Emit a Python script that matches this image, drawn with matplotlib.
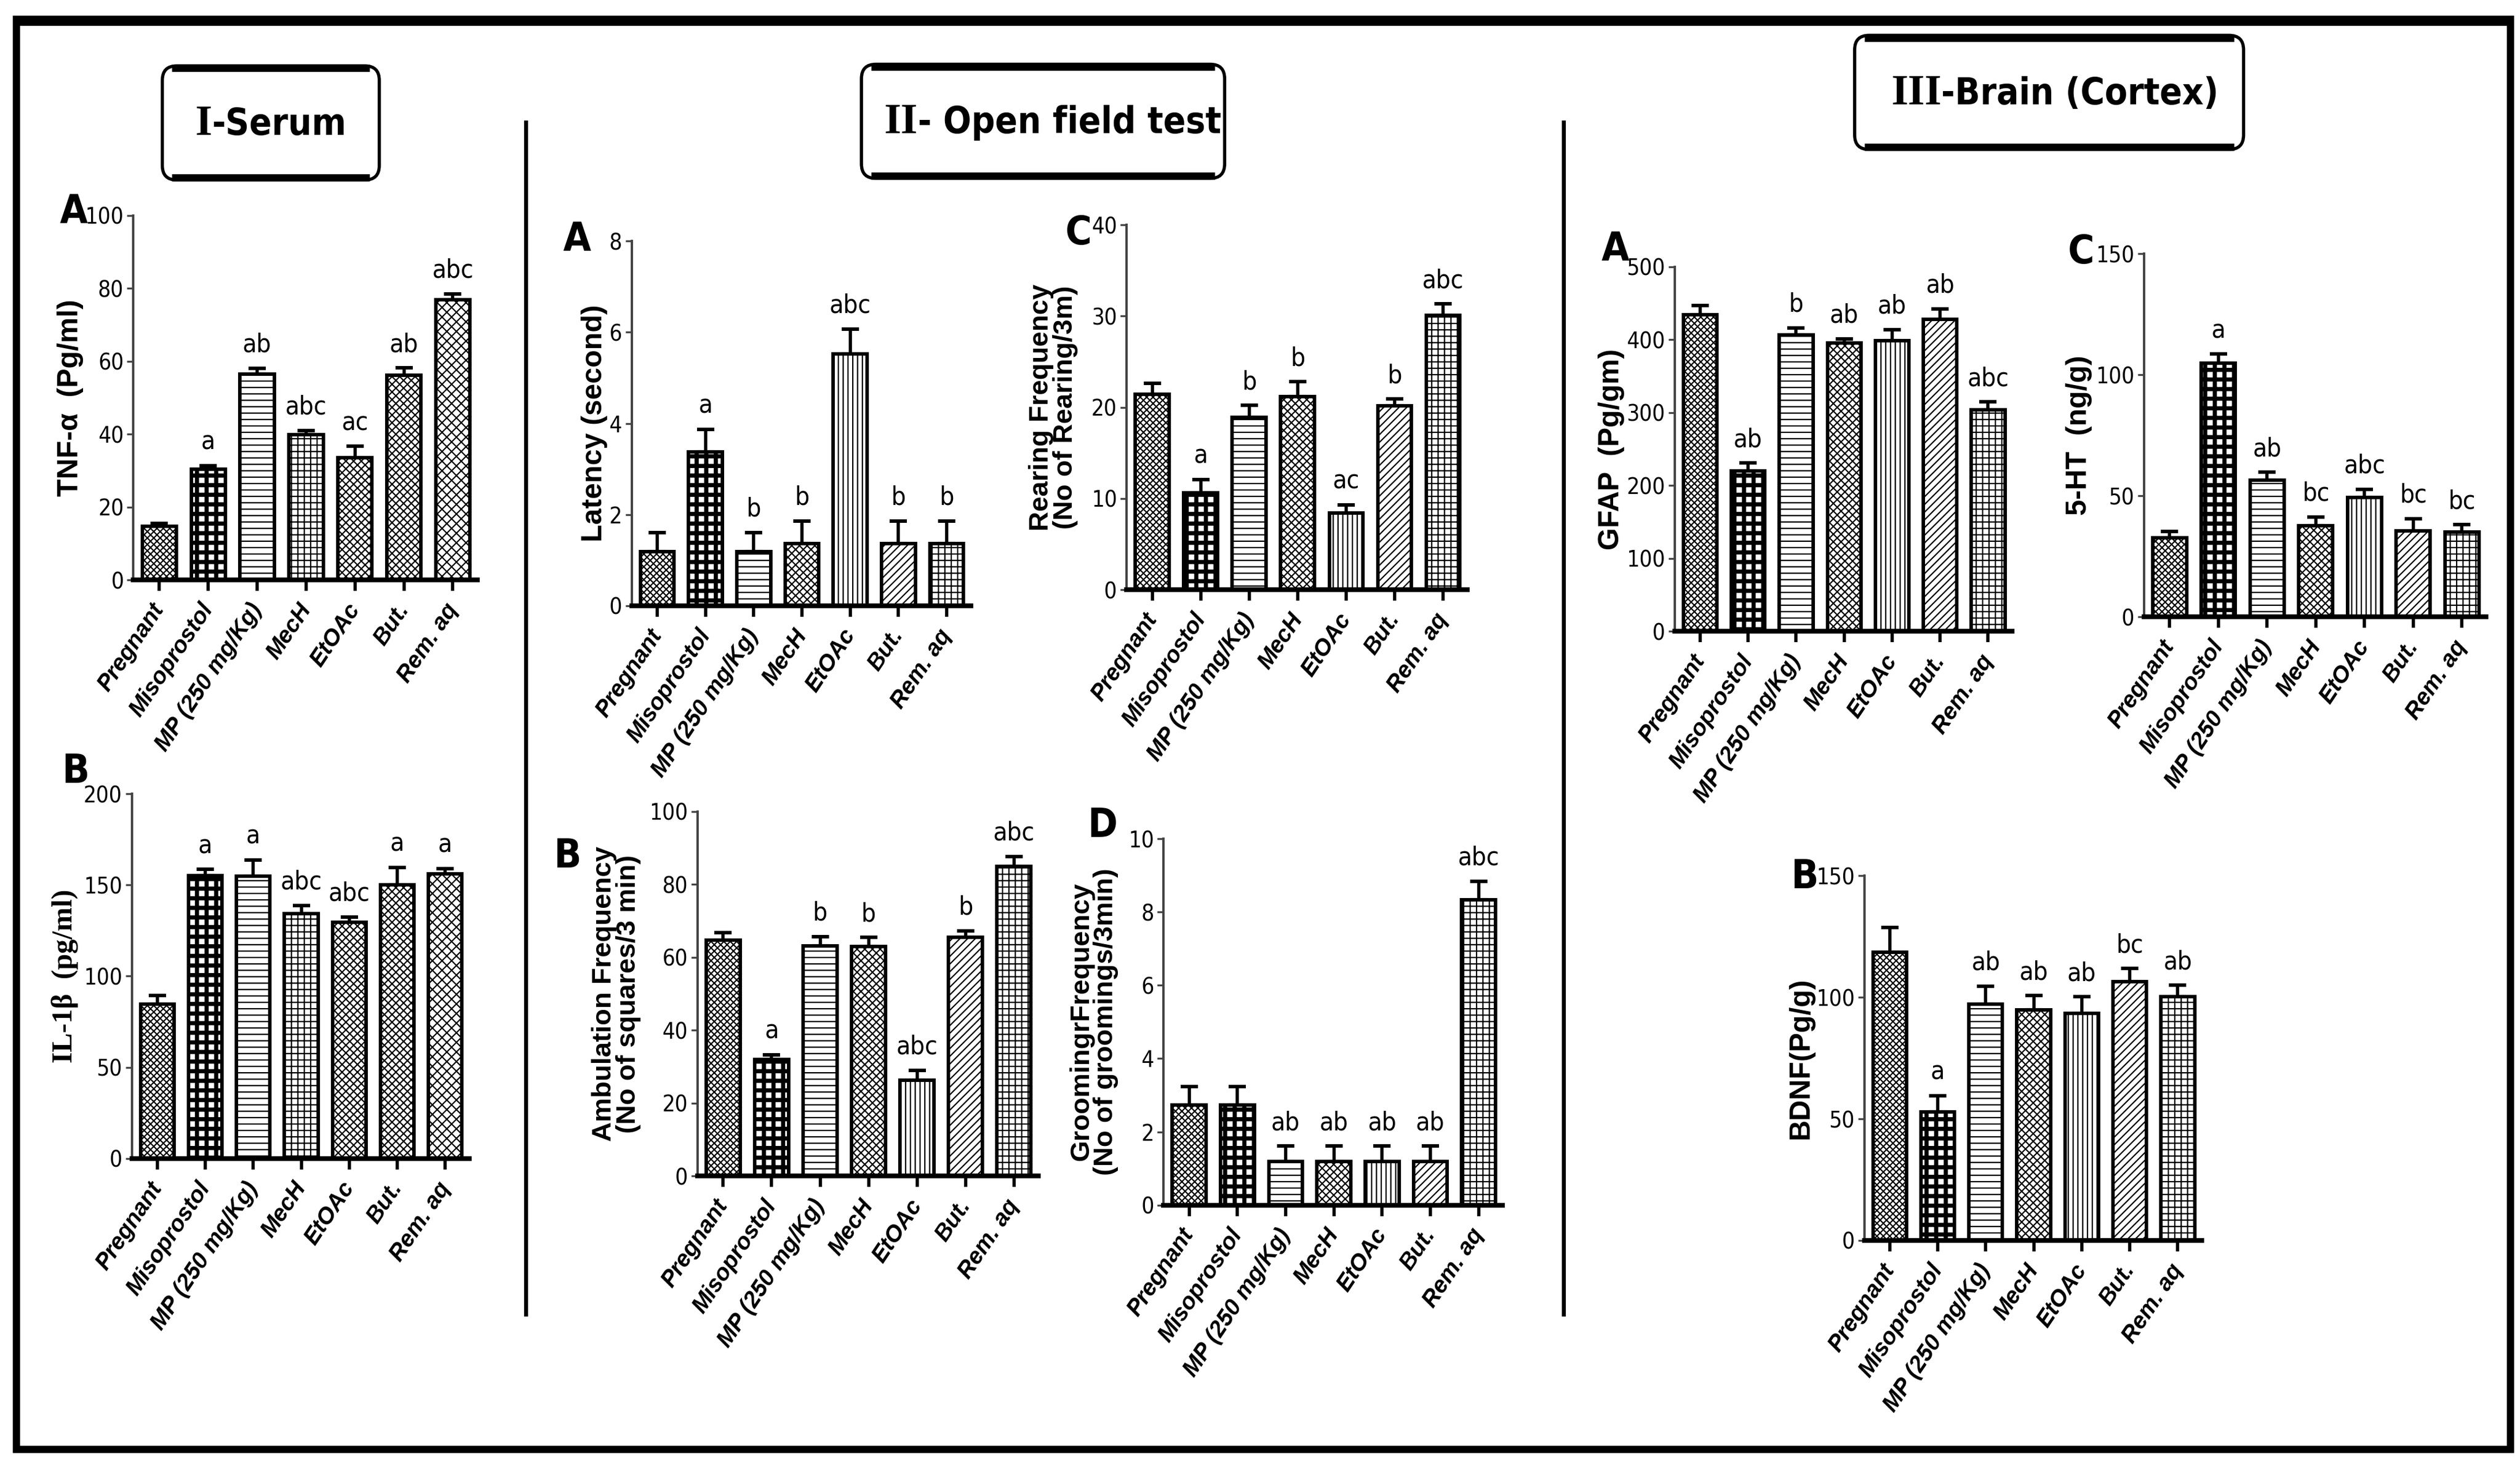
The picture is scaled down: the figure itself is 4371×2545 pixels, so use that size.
import numpy as np
import matplotlib
matplotlib.use("Agg")
import matplotlib.pyplot as plt
from matplotlib import font_manager
from matplotlib.patches import FancyBboxPatch, Rectangle

# fonts: narrow face for numbers/letters like the GraphPad export
names = {f.name for f in font_manager.fontManager.ttflist}
NARROW = "Liberation Sans Narrow" if "Liberation Sans Narrow" in names else "DejaVu Sans"
STRETCH = "normal" if NARROW != "DejaVu Sans" else "condensed"
SANS = "Liberation Sans" if "Liberation Sans" in names else "DejaVu Sans"
SERIF = "Liberation Serif" if "Liberation Serif" in names else "DejaVu Serif"

# ---- data ----
groups = ["Pregnant", "Misoprostol", "MP (250 mg/Kg)", "MecH", "EtOAc", "But.", "Rem. aq"]

tnf = [14.8, 30.4, 56.4, 39.8, 33.5, 56.2, 76.8]
tnf_err = [0.8, 1.0, 1.7, 1.2, 3.2, 2.0, 1.7]
tnf_sig = ["", "a", "ab", "abc", "ac", "ab", "abc"]

il1b = [84.5, 155, 154.8, 134.3, 129.4, 150.2, 156]
il1b_err = [5, 3.5, 9, 4.4, 3, 9.5, 3]
il1b_sig = ["", "a", "a", "abc", "abc", "a", "a"]

latency = [1.19, 3.37, 1.19, 1.37, 5.52, 1.37, 1.37]
latency_err = [0.42, 0.5, 0.42, 0.49, 0.55, 0.49, 0.49]
latency_sig = ["", "a", "b", "b", "abc", "b", "b"]

rearing = [21.45, 10.6, 18.9, 21.2, 8.4, 20.15, 30.1]
rearing_err = [1.2, 1.5, 1.3, 1.6, 0.9, 0.75, 1.25]
rearing_sig = ["", "a", "b", "b", "ac", "b", "abc"]

ambulation = [64.75, 32, 63.2, 62.9, 26.3, 65.5, 84.9]
ambulation_err = [2, 1.3, 2.5, 2.6, 2.7, 1.8, 2.8]
ambulation_sig = ["", "a", "b", "b", "abc", "b", "abc"]

grooming = [2.73, 2.73, 1.19, 1.19, 1.19, 1.19, 8.34]
grooming_err = [0.5, 0.5, 0.42, 0.42, 0.42, 0.42, 0.5]
grooming_sig = ["", "", "ab", "ab", "ab", "ab", "abc"]

gfap = [434.5, 219.8, 406.8, 395.7, 398.4, 427.9, 304]
gfap_err = [12, 11, 9.4, 5.5, 15.5, 14.4, 10.5]
gfap_sig = ["", "ab", "b", "ab", "ab", "ab", "abc"]

ht5 = [32.6, 104.9, 56.5, 37.7, 49.3, 35.6, 35.1]
ht5_err = [2.8, 3.7, 3.3, 3.7, 3.5, 5, 3]
ht5_sig = ["", "a", "ab", "bc", "abc", "bc", "bc"]

bdnf = [118.4, 52.8, 97.3, 94.9, 93.5, 106.5, 100.2]
bdnf_err = [10.3, 6.7, 7.3, 5.8, 6.7, 5.3, 4.8]
bdnf_sig = ["", "a", "ab", "ab", "ab", "bc", "ab"]

# ---- layout (reference drawn on a 1568 x 913 grid) ----
W, H = 1568, 913


def frac(x0, x1, ytop, ybot):
    return [x0 / W, 1 - ybot / H, (x1 - x0) / W, (ybot - ytop) / H]


SERUM_HATCH = ["xxxxxx", "check", "---", "+++", "xxxxx", "xxxxx", "xxxx"]
OTHER_HATCH = ["xxxxxx", "check", "---", "xxxxx", "||||", "/////", "+++"]


def bar_panel(fig, rect, vals, errs, sig, yticks, ylabel, lab_font, hatches, labelpad,
              labsize=18):
    ax = fig.add_axes(rect)
    ax.set_facecolor("none")
    x = np.arange(len(groups))
    for i in range(len(groups)):
        h = hatches[i]
        if h == "check":
            hl, h = 2.6, "++"
        else:
            hl = 0.8
        plt.rcParams["hatch.linewidth"] = hl
        b = ax.bar(x[i], vals[i], width=0.7, color="white", edgecolor="black",
                   linewidth=2.2, hatch=h, zorder=2)[0]
        if hasattr(b, "set_hatch_linewidth"):
            b.set_hatch_linewidth(hl)
    ax.errorbar(x, vals, yerr=[np.zeros(len(vals)), errs], fmt="none", ecolor="black",
                elinewidth=2, capsize=5.5, capthick=2.2, zorder=1)
    ymax = yticks[-1]
    for i in range(len(groups)):
        if sig[i]:
            ax.text(x[i], vals[i] + errs[i] + 0.03 * ymax, sig[i], ha="center", va="bottom",
                    family=NARROW, fontstretch=STRETCH, fontsize=16)
    ax.set_xlim(-0.53, 6.5)
    ax.set_ylim(0, ymax)
    ax.set_yticks(yticks)
    ax.set_yticklabels([str(int(t)) for t in yticks],
                       family=NARROW, fontstretch=STRETCH, fontsize=14)
    ax.set_xticks(x)
    ax.set_xticklabels(groups, rotation=56, ha="right", va="center", rotation_mode="anchor",
                       family=SANS, fontstyle="italic", fontweight="bold", fontsize=14.5)
    ax.tick_params(axis="y", direction="out", length=4, width=1.2, color="#444444", pad=2)
    ax.tick_params(axis="x", direction="out", length=7, width=2, color="black", pad=9)
    for s in ["top", "right"]:
        ax.spines[s].set_visible(False)
    ax.spines["left"].set_linewidth(1.5)
    ax.spines["left"].set_color("#444444")
    ax.spines["bottom"].set_linewidth(3)
    ax.set_ylabel(ylabel, family=lab_font, fontweight="bold", fontsize=labsize,
                  labelpad=labelpad, linespacing=0.95)
    return ax


fig = plt.figure(figsize=(4371 / 200, 2545 / 200), dpi=200)

# overlay for frame, dividers, section titles and panel letters
deco = fig.add_axes([0, 0, 1, 1])
deco.set_xlim(0, W)
deco.set_ylim(H, 0)
deco.axis("off")
deco.add_patch(Rectangle((10, 12), 1552, 890, fill=False, lw=4.5, ec="black"))
deco.plot([10, 1562], [13, 13], color="black", lw=6, solid_capstyle="butt")
deco.plot([327, 327], [76, 818], color="black", lw=2.5)
deco.plot([973, 973], [76, 818], color="black", lw=2.5)

titles = [
    (101, 236, 41, 112, 132, "I", "-Serum"),
    (536, 762, 40, 111, 571, "II", "- Open field test"),
    (1154, 1396, 22, 93, 1208, "III", "-Brain (Cortex)"),
]
for x0, x1, y0, y1, xs, roman, rest in titles:
    deco.add_patch(FancyBboxPatch((x0, y0), x1 - x0, y1 - y0,
                                  boxstyle="round,pad=0,rounding_size=9",
                                  fill=False, lw=2, ec="black"))
    deco.plot([x0 + 6, x1 - 6], [y0 + 1.5, y0 + 1.5], color="black", lw=4.5,
              solid_capstyle="butt")
    deco.plot([x0 + 6, x1 - 6], [y1 - 1.5, y1 - 1.5], color="black", lw=4.5,
              solid_capstyle="butt")
    yc = (y0 + y1) / 2 + 1
    deco.text(xs, yc, roman, ha="right", va="center", family=SERIF, fontweight="bold",
              fontsize=27)
    deco.text(xs, yc, rest, ha="left", va="center", family=NARROW, fontstretch=STRETCH,
              fontweight="bold", fontsize=23)

letters = [("A", 46, 132), ("B", 47, 480), ("A", 359, 149), ("C", 671, 145),
           ("B", 353, 533), ("D", 686, 514), ("A", 1005, 155), ("C", 1295, 157),
           ("B", 1123, 546)]
for t, lx, ly in letters:
    deco.text(lx, ly, t, ha="center", va="center", family=NARROW, fontstretch=STRETCH,
              fontweight="bold", fontsize=25)

# ---- I Serum ----
bar_panel(fig, frac(83, 297, 134, 361), tnf, tnf_err, tnf_sig, np.arange(0, 101, 20),
          "TNF-α  (Pg/ml)", SANS, SERUM_HATCH, 1)
bar_panel(fig, frac(82, 292, 494, 721), il1b, il1b_err, il1b_sig, np.arange(0, 201, 50),
          "IL-1β  (pg/ml)", SERIF, SERUM_HATCH, 3)

# ---- II Open field ----
bar_panel(fig, frac(393, 604, 150, 377), latency, latency_err, latency_sig, np.arange(0, 9, 2),
          "Latency (second)", SANS, OTHER_HATCH, 1)
bar_panel(fig, frac(701, 913, 140, 367), rearing, rearing_err, rearing_sig, np.arange(0, 41, 10),
          "Rearing Frequency\n(No of Rearing/3m)", SANS, OTHER_HATCH, 8, 17)
bar_panel(fig, frac(434, 646, 505, 732), ambulation, ambulation_err, ambulation_sig,
          np.arange(0, 101, 20), "Ambulation Frequency\n(No of squares/3 min)", SANS,
          OTHER_HATCH, 5, 17)
bar_panel(fig, frac(724, 935, 522, 750), grooming, grooming_err, grooming_sig,
          np.arange(0, 11, 2), "GroomingrFrequency\n(No of groomings/3min)", SANS,
          OTHER_HATCH, 6, 17)

# ---- III Brain ----
bar_panel(fig, frac(1042, 1252, 166, 393), gfap, gfap_err, gfap_sig, np.arange(0, 501, 100),
          "GFAP  (Pg/gm)", SANS, OTHER_HATCH, 1)
bar_panel(fig, frac(1334, 1547, 158, 384), ht5, ht5_err, ht5_sig, np.arange(0, 151, 50),
          "5-HT  (ng/g)", SANS, OTHER_HATCH, 2)
bar_panel(fig, frac(1160, 1370, 545, 772), bdnf, bdnf_err, bdnf_sig, np.arange(0, 151, 50),
          "BDNF(Pg/g)", SANS, OTHER_HATCH, 1)

fig.savefig("out.png", dpi=200, facecolor="white")
